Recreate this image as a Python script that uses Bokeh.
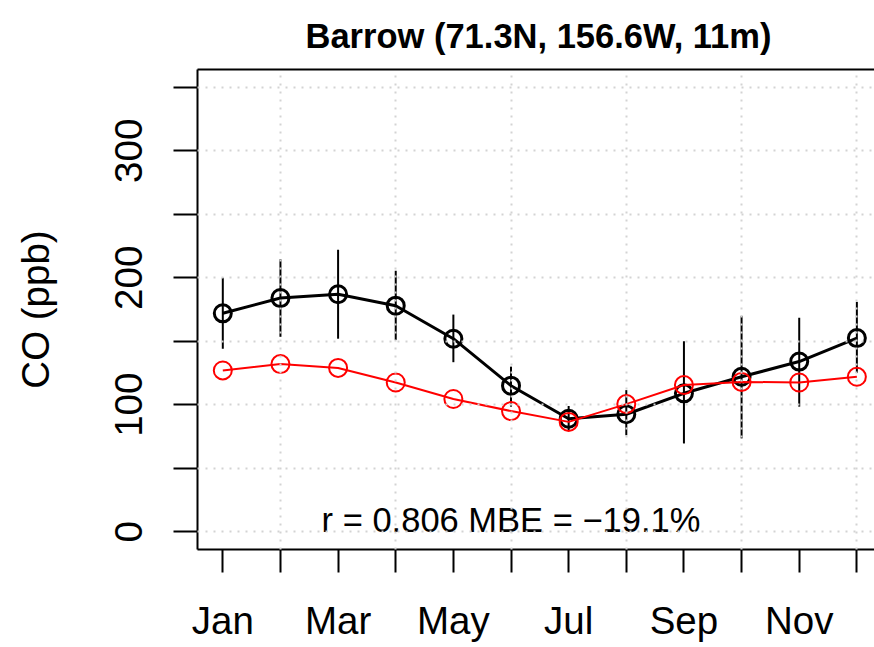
from bokeh.plotting import figure
from bokeh.models import FixedTicker, LinearAxis, Range1d, Grid
from bokeh.core.properties import value
from bokeh.embed import file_html
from bokeh.resources import INLINE

# ---- data ----
months = [1, 2, 3, 4, 5, 6, 7, 8, 9, 10, 11, 12]
month_labels = ["Jan", "", "Mar", "", "May", "", "Jul", "", "Sep", "", "Nov", ""]
obs_mean = [172, 184, 187, 178, 152, 115, 89, 92.5, 109, 122, 134, 152.5]
obs_upper = [200, 214.5, 222, 205.5, 171, 130, 99, 111.5, 150, 170, 168.5, 181]
obs_lower = [144, 153.5, 152, 151, 133.5, 98.5, 80, 76, 69.5, 73.5, 98.5, 125]
model_mean = [127, 132, 129, 117.5, 104.5, 95, 86.5, 100.5, 115.5, 118, 117.5, 122]
grid_months = [2, 4, 6, 8, 10, 12]
y_ticks = [0, 50, 100, 150, 200, 250, 300, 350]
y_tick_labels = ["0", "", "100", "", "200", "", "300", ""]
stats_x = [6]
stats_y = [9]
stats_text = ["r = 0.806 MBE = \u221219.1%"]
title_text = "Barrow (71.3N, 156.6W, 11m)"
y_label = "CO (ppb)"

FONT = "Liberation Sans"

p = figure(width=874, height=647,
           x_range=Range1d(0.561, 12.306), y_range=Range1d(-14, 364),
           x_axis_type=None, y_axis_type=None,
           output_backend="svg", toolbar_location=None,
           min_border_left=197, min_border_right=0,
           min_border_top=69, min_border_bottom=98)
p.outline_line_color = None
p.background_fill_color = "white"
p.border_fill_color = "white"

# title
p.title.text = title_text
p.title.text_font = FONT
p.title.text_font_size = "34.5px"
p.title.text_font_style = "bold"
p.title.text_color = "black"
p.title.align = "left"
p.title.offset = 108
p.title.standoff = 29

def style_axis(ax):
    ax.axis_line_width = 2
    ax.axis_line_color = "black"
    ax.major_tick_line_width = 2
    ax.major_tick_line_color = "black"
    ax.major_tick_in = 0
    ax.major_tick_out = 23
    ax.minor_tick_in = 0
    ax.minor_tick_out = 0
    ax.major_label_text_font = FONT
    ax.major_label_text_font_size = "38.5px"
    ax.major_label_text_color = "black"

xaxis = LinearAxis(ticker=FixedTicker(ticks=months),
                   major_label_overrides={m: l for m, l in zip(months, month_labels)})
style_axis(xaxis)
xaxis.major_label_standoff = 26
p.add_layout(xaxis, "below")

yaxis = LinearAxis(ticker=FixedTicker(ticks=y_ticks),
                   major_label_overrides={t: l for t, l in zip(y_ticks, y_tick_labels)})
style_axis(yaxis)
yaxis.major_tick_out = 24
yaxis.major_label_orientation = "vertical"
yaxis.major_label_standoff = 31
yaxis.axis_label = y_label
yaxis.axis_label_text_font = FONT
yaxis.axis_label_text_font_size = "38.5px"
yaxis.axis_label_text_font_style = "normal"
yaxis.axis_label_text_color = "black"
yaxis.axis_label_standoff = 56
p.add_layout(yaxis, "left")

top_axis = LinearAxis(ticker=FixedTicker(ticks=[]))
top_axis.axis_line_width = 2
top_axis.major_tick_out = 0
top_axis.major_tick_in = 0
top_axis.minor_tick_out = 0
top_axis.minor_tick_in = 0
top_axis.major_label_text_font_size = "1px"
p.add_layout(top_axis, "above")

# data
p.segment(x0=months, y0=obs_lower, x1=months, y1=obs_upper,
          line_color="black", line_width=2)
p.line(months, obs_mean, line_color="black", line_width=3)
p.scatter(months, obs_mean, marker="circle", size=17, fill_color=None,
          line_color="black", line_width=3)
p.line(months, model_mean, line_color="#FF0000", line_width=2)
p.scatter(months, model_mean, marker="circle", size=18, fill_color=None,
          line_color="#FF0000", line_width=2)

p.text(x=stats_x, y=stats_y, text=stats_text, text_font=value(FONT),
       text_font_size="34.5px", text_align="center", text_baseline="middle",
       text_color="black")

# dotted grid drawn over the data (as in the original)
vgrid = Grid(dimension=0, ticker=FixedTicker(ticks=grid_months),
             grid_line_color="#D3D3D3", grid_line_dash="2 6", grid_line_width=2,
             level="annotation")
hgrid = Grid(dimension=1, ticker=FixedTicker(ticks=y_ticks),
             grid_line_color="#D3D3D3", grid_line_dash="2 6", grid_line_width=2,
             level="annotation")
p.add_layout(vgrid)
p.add_layout(hgrid)

open("out.html", "w").write(file_html(p, INLINE))
